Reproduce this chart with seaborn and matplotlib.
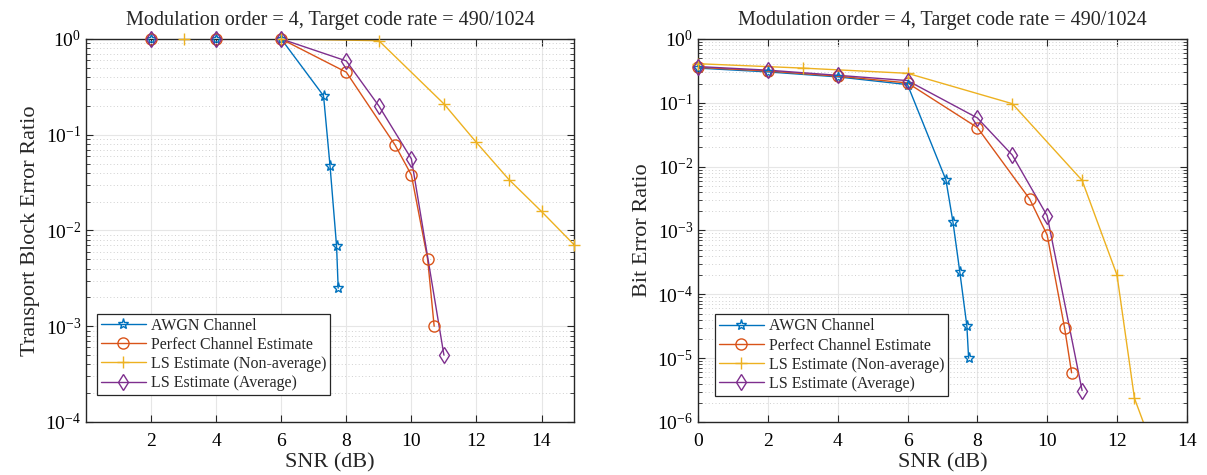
import numpy as np
import pandas as pd
import matplotlib
matplotlib.use("Agg")
import matplotlib.pyplot as plt
from matplotlib.lines import Line2D
import seaborn as sns

# ---- data: transport block error ratio (left) ----
bler_awgn_snr = [0, 2, 4, 6, 7.3, 7.5, 7.7, 7.75]
bler_awgn = [1, 1, 1, 1, 0.255, 0.047, 0.0069, 0.0025]
bler_perfect_snr = [0, 2, 4, 6, 8, 9.5, 10, 10.5, 10.7]
bler_perfect = [1, 1, 1, 1, 0.45, 0.078, 0.038, 0.005, 0.001]
bler_ls_snr = [0, 3, 6, 9, 11, 12, 13, 14, 15]
bler_ls = [1, 1, 1, 0.96, 0.21, 0.083, 0.034, 0.0158, 0.0071]
bler_lsavg_snr = [0, 2, 4, 6, 8, 9, 10, 11]
bler_lsavg = [1, 1, 1, 1, 0.59, 0.2, 0.056, 0.0005]

# ---- data: bit error ratio (right) ----
ber_awgn_snr = [0, 2, 4, 6, 7.1, 7.3, 7.5, 7.7, 7.75]
ber_awgn = [0.35, 0.305, 0.255, 0.193, 0.0062, 0.00138, 0.00022, 3.2e-5, 1.0e-5]
ber_perfect_snr = [0, 2, 4, 6, 8, 9.5, 10, 10.5, 10.7]
ber_perfect = [0.36, 0.315, 0.262, 0.205, 0.041, 0.0031, 0.00085, 2.95e-5, 5.9e-6]
ber_ls_snr = [0, 3, 6, 9, 11, 12, 12.5, 13]
ber_ls = [0.41, 0.35, 0.29, 0.097, 0.0061, 0.0002, 2.35e-6, 4.3e-7]
ber_lsavg_snr = [0, 2, 4, 6, 8, 9, 10, 11]
ber_lsavg = [0.37, 0.325, 0.27, 0.223, 0.058, 0.0152, 0.0017, 3.1e-6]

names = ["AWGN Channel", "Perfect Channel Estimate",
         "LS Estimate (Non-average)", "LS Estimate (Average)"]
colors = ["#0072BD", "#D95319", "#EDB120", "#7E2F8E"]
markers = ["*", "o", "+", "d"]
msizes = [8, 8, 9, 8]

sns.set_style("ticks")
plt.rcParams["font.family"] = ["Liberation Serif", "DejaVu Serif"]
plt.rcParams["mathtext.fontset"] = "custom"
plt.rcParams["mathtext.rm"] = "Liberation Serif"

fig = plt.figure(figsize=(12.07, 4.75), dpi=100)
ax1 = fig.add_axes([0.0713, 0.1116, 0.4043, 0.8063])
ax2 = fig.add_axes([0.5783, 0.1116, 0.4050, 0.8063])

left_series = [(bler_awgn_snr, bler_awgn), (bler_perfect_snr, bler_perfect),
               (bler_ls_snr, bler_ls), (bler_lsavg_snr, bler_lsavg)]
right_series = [(ber_awgn_snr, ber_awgn), (ber_perfect_snr, ber_perfect),
                (ber_ls_snr, ber_ls), (ber_lsavg_snr, ber_lsavg)]


def draw(ax, series, xlim, ylim, xticks, ylabel, skip_left_edge, leg_anchor):
    ax.set_yscale("log")
    handles = []
    for (x, y), name, c, m, ms in zip(series, names, colors, markers, msizes):
        df = pd.DataFrame({"snr": x, "err": y})
        sns.lineplot(data=df, x="snr", y="err", ax=ax, color=c, lw=1.0,
                     estimator=None, sort=False)
        # markers drawn separately so the ones on the axes edges stay whole
        xa = np.array(x, dtype=float)
        ya = np.array(y, dtype=float)
        show = (xa >= xlim[0]) & (xa <= xlim[1]) & (ya >= ylim[0]) & (ya <= ylim[1])
        if skip_left_edge:
            show &= xa > xlim[0]
        ax.plot(xa[show], ya[show], ls="none", marker=m, ms=ms, mfc="none",
                mec=c, mew=1.0, clip_on=False, zorder=3)
        handles.append(Line2D([], [], color=c, lw=1.0, marker=m, ms=ms,
                              mfc="none", mec=c, mew=1.0, label=name))
    ax.set_xlim(*xlim)
    ax.set_ylim(*ylim)
    ax.set_xticks(xticks)
    ax.grid(True, which="major", color="#e6e6e6", lw=0.8)
    ax.grid(True, which="minor", axis="y", color="#d0d0d0", lw=0.7, ls=(0, (1, 2.5)))
    ax.tick_params(which="both", direction="in", top=True, right=True,
                   labelsize=14, colors="#262626", labelcolor="black")
    ax.tick_params(which="major", length=5)
    ax.tick_params(which="minor", length=3)
    ax.tick_params(axis="x", pad=8)
    for s in ax.spines.values():
        s.set_color("#262626")
        s.set_linewidth(1.0)
    ax.set_xlabel("SNR (dB)", fontsize=16, labelpad=2)
    ax.set_ylabel(ylabel, fontsize=16, labelpad=4)
    ax.set_title("Modulation order = 4, Target code rate = 490/1024",
                 fontsize=14.5, pad=10)
    leg = ax.legend(handles=handles, loc="lower left", bbox_to_anchor=leg_anchor,
                    borderaxespad=0, fontsize=11.5, fancybox=False, framealpha=1,
                    edgecolor="#262626", borderpad=0.25, labelspacing=0.2,
                    handlelength=2.8, handletextpad=0.3)
    leg.get_frame().set_linewidth(0.9)


draw(ax1, left_series, (0, 15), (1e-4, 1), list(range(2, 15, 2)),
     "Transport Block Error Ratio", True, (0.0225, 0.07))
draw(ax2, right_series, (0, 14), (1e-6, 1), list(range(0, 15, 2)),
     "Bit Error Ratio", False, (0.035, 0.068))

fig.savefig("out.png", dpi=100)
